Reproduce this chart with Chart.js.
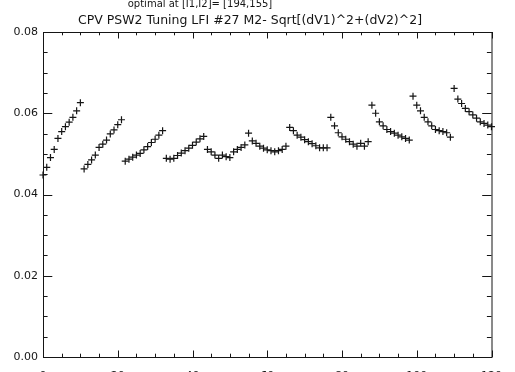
<!DOCTYPE html>
<html>
<head>
<meta charset="utf-8">
<script src="https://cdn.jsdelivr.net/npm/chart.js@4"></script>
<style>
  body { margin: 0; background: #fff; }
  #wrap { width: 515px; height: 372px; }
</style>
</head>
<body>
<div id="wrap"><canvas id="chart"></canvas></div>
<script>
// one value per tuning step (index 0..120), 11 sweeps of 11
const sweep1 = [0.0448, 0.0467, 0.0491, 0.0511, 0.0538, 0.0555, 0.0567, 0.0578, 0.0590, 0.0606, 0.0626];
const sweep2 = [0.0463, 0.0474, 0.0485, 0.0497, 0.0516, 0.0524, 0.0534, 0.0549, 0.0559, 0.0572, 0.0584];
const sweep3 = [0.0482, 0.0487, 0.0492, 0.0497, 0.0501, 0.0510, 0.0518, 0.0528, 0.0536, 0.0546, 0.0557];
const sweep4 = [0.0489, 0.0487, 0.0489, 0.0496, 0.0502, 0.0508, 0.0514, 0.0521, 0.0529, 0.0537, 0.0543];
const sweep5 = [0.0511, 0.0505, 0.0497, 0.0489, 0.0497, 0.0493, 0.0491, 0.0505, 0.0511, 0.0516, 0.0522];
const sweep6 = [0.0551, 0.0532, 0.0526, 0.0519, 0.0514, 0.0510, 0.0508, 0.0505, 0.0508, 0.0511, 0.0519];
const sweep7 = [0.0565, 0.0557, 0.0546, 0.0541, 0.0535, 0.0530, 0.0525, 0.0520, 0.0515, 0.0515, 0.0515];
const sweep8 = [0.0590, 0.0569, 0.0552, 0.0542, 0.0536, 0.0530, 0.0524, 0.0519, 0.0526, 0.0519, 0.0530];
const sweep9 = [0.0620, 0.0600, 0.0579, 0.0569, 0.0560, 0.0555, 0.0551, 0.0546, 0.0542, 0.0538, 0.0534];
const sweep10 = [0.0642, 0.0620, 0.0606, 0.0590, 0.0579, 0.0569, 0.0560, 0.0557, 0.0555, 0.0552, 0.0541];
const sweep11 = [0.0661, 0.0635, 0.0624, 0.0612, 0.0604, 0.0596, 0.0588, 0.0579, 0.0575, 0.0571, 0.0567];

const xTicks = [0, 20, 40, 60, 80, 100, 120];
const yTicks = [0.00, 0.02, 0.04, 0.06, 0.08];

const titleTop = "optimal at [I1,I2]= [194,155]";
const titleMain = "CPV PSW2 Tuning LFI #27 M2- Sqrt[(dV1)^2+(dV2)^2]";

const values = [].concat(sweep1, sweep2, sweep3, sweep4, sweep5, sweep6,
                         sweep7, sweep8, sweep9, sweep10, sweep11);
const points = values.map((v, i) => ({ x: i, y: v }));

const ink = "#151515";

// IDL style frame: box + inward ticks on all four sides, plus titles
const framePlugin = {
    id: "frame",
    afterDraw(chart) {
        const c = chart.ctx;
        const a = chart.chartArea;
        const xs = chart.scales.x, ys = chart.scales.y;
        c.save();
        c.strokeStyle = ink;
        c.lineWidth = 1;
        c.strokeRect(a.left + 0.5, a.top + 0.5, a.right - a.left, a.bottom - a.top);
        c.beginPath();
        for (let v = xs.min; v <= xs.max + 0.001; v += 5) {
            const px = Math.round(xs.getPixelForValue(v)) + 0.5;
            const len = (v % 20 === 0) ? 6.5 : 3.3;
            c.moveTo(px, a.bottom); c.lineTo(px, a.bottom - len);
            c.moveTo(px, a.top); c.lineTo(px, a.top + len);
        }
        for (let k = 0; k <= 16; k++) {
            const v = k * 0.005;
            const py = Math.round(ys.getPixelForValue(v)) + 0.5;
            const len = (k % 4 === 0) ? 9.3 : 4.6;
            c.moveTo(a.left, py); c.lineTo(a.left + len, py);
            c.moveTo(a.right, py); c.lineTo(a.right - len, py);
        }
        c.stroke();

        c.fillStyle = ink;
        c.textAlign = "center";
        c.textBaseline = "alphabetic";
        c.font = "10px 'DejaVu Sans'";
        c.fillText(titleTop, 200, 7);
        c.font = "13px 'DejaVu Sans'";
        c.fillText(titleMain, 250, 24, 344);
        c.restore();
    }
};

const ctx = document.getElementById("chart").getContext("2d");

new Chart(ctx, {
    type: "scatter",
    data: {
        datasets: [{
            data: points,
            pointStyle: "cross",
            pointRadius: 3.5,
            pointBorderWidth: 1.2,
            borderColor: ink,
            backgroundColor: ink,
            clip: false
        }]
    },
    options: {
        responsive: true,
        maintainAspectRatio: false,
        animation: false,
        layout: { padding: { top: 32, right: 8, left: 0, bottom: 0 } },
        plugins: {
            legend: { display: false },
            tooltip: { enabled: false }
        },
        scales: {
            x: {
                type: "linear",
                min: 0,
                max: 120,
                afterFit: (s) => { s.height = 15; },
                afterBuildTicks: (s) => { s.ticks = xTicks.map(v => ({ value: v })); },
                grid: { display: false, drawTicks: false },
                border: { display: false },
                ticks: {
                    autoSkip: false,
                    maxRotation: 0,
                    padding: 13,
                    color: ink,
                    font: { family: "DejaVu Sans", size: 11 }
                }
            },
            y: {
                type: "linear",
                min: 0,
                max: 0.08,
                afterFit: (s) => { s.width = 43; },
                afterBuildTicks: (s) => { s.ticks = yTicks.map(v => ({ value: v })); },
                grid: { display: false, drawTicks: false },
                border: { display: false },
                ticks: {
                    padding: 5,
                    color: ink,
                    font: { family: "DejaVu Sans", size: 11 },
                    callback: (v) => Number(v).toFixed(2)
                }
            }
        }
    },
    plugins: [framePlugin]
});
</script>
</body>
</html>
